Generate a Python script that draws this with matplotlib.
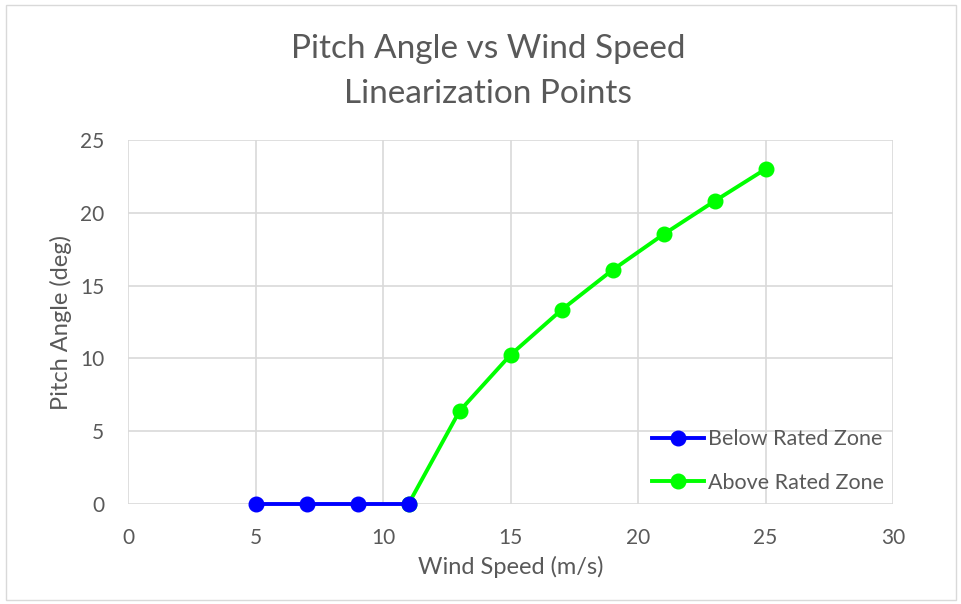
import matplotlib
matplotlib.use("Agg")
import matplotlib.pyplot as plt
from matplotlib.patches import Rectangle

plt.rcParams['font.family'] = ['Lato', 'DejaVu Sans']

below_x = [5, 7, 9, 11]
below_y = [0, 0, 0, 0]
above_x = [11, 13, 15, 17, 19, 21, 23, 25]
above_y = [0, 6.38, 10.24, 13.33, 16.07, 18.52, 20.8, 23.0]
x_ticks = [0, 5, 10, 15, 20, 25, 30]
y_ticks = [0, 5, 10, 15, 20, 25]

text_col = '#595959'
grid_col = '#d9d9d9'

fig = plt.figure(figsize=(9.61, 6.04), dpi=100)
fig.patches.append(Rectangle((6/961, 4/604), 950/961, 595/604, transform=fig.transFigure,
                             fill=False, edgecolor='#d9d9d9', linewidth=1.0))
ax = fig.add_axes([128/961, 100/604, 765/961, 364/604])

ax.plot(above_x, above_y, color='#00ff00', lw=2.8, marker='o', ms=10.5, zorder=3,
        label='Above Rated Zone', clip_on=False)
ax.plot(below_x, below_y, color='#0000ff', lw=2.8, marker='o', ms=10.5, zorder=4,
        label='Below Rated Zone', clip_on=False)

ax.set_xlim(0, 30)
ax.set_ylim(0, 25)
ax.set_xticks(x_ticks)
ax.set_yticks(y_ticks)
ax.grid(True, color=grid_col, lw=1.2, zorder=0)
ax.set_axisbelow(True)
for s in ax.spines.values():
    s.set_visible(False)
ax.tick_params(length=0, labelsize=15, labelcolor=text_col)
ax.tick_params(axis='x', pad=17)
ax.tick_params(axis='y', pad=17)
ax.set_xlabel('Wind Speed (m/s)', fontsize=17, color=text_col, labelpad=6)
ax.set_ylabel('Pitch Angle (deg)', fontsize=17, color=text_col, labelpad=6)

fig.text(488/961, 1 - 49/604, 'Pitch Angle vs Wind Speed', ha='center', va='center',
         fontsize=24, color=text_col)
fig.text(488/961, 1 - 94/604, 'Linearization Points', ha='center', va='center',
         fontsize=24, color=text_col)

h, l = ax.get_legend_handles_labels()
leg = ax.legend(h[::-1], l[::-1], loc='lower right', bbox_to_anchor=(1.008, -0.011),
                frameon=False, fontsize=15.5, labelcolor=text_col, handlelength=2.4,
                handletextpad=0.2, labelspacing=1.1, borderaxespad=0.3)

fig.savefig('out.png', dpi=100)
